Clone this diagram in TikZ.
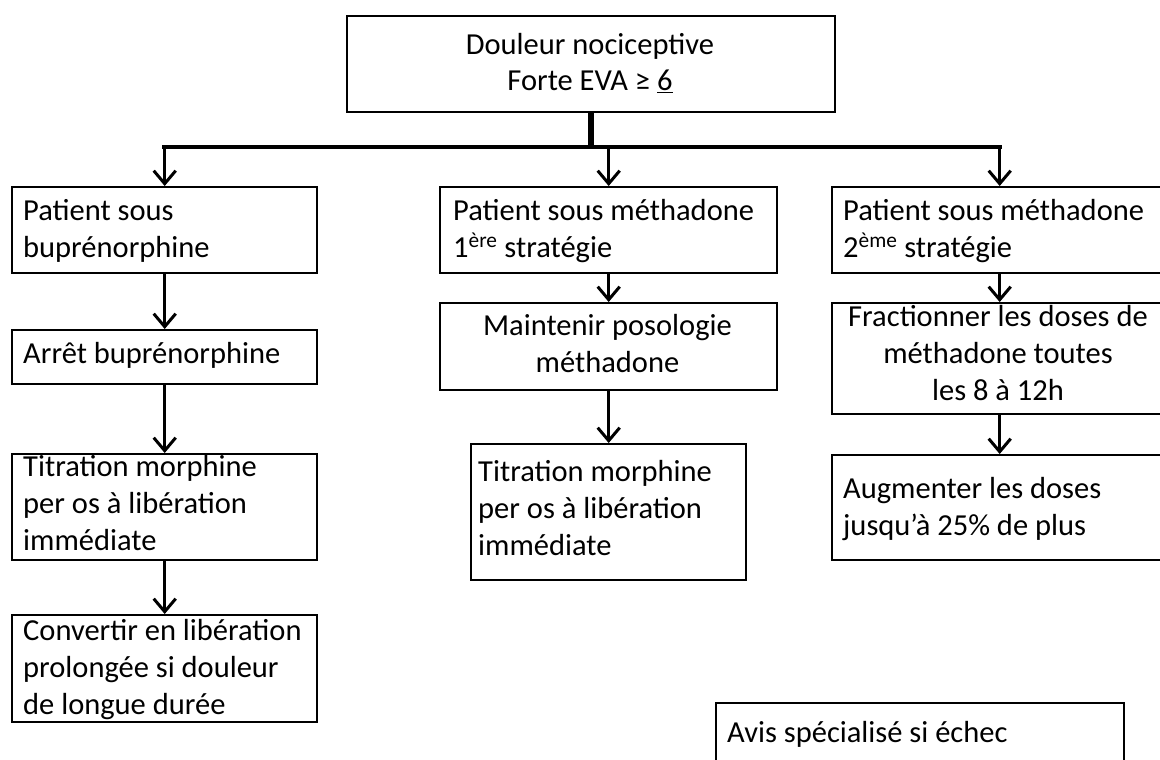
\documentclass[tikz,border=0pt]{standalone}
\usepackage{fontspec}
\setmainfont{Carlito}
\usetikzlibrary{arrows.meta,calc}
\begin{document}
\begin{tikzpicture}[x=1pt,y=-1pt,
  box/.style={draw, line width=2.4pt, inner sep=0pt, anchor=north west},
  txt/.style={inner sep=0pt, font=\fontsize{30.5}{36.6}\selectfont},
  ltxt/.style={txt, align=left, anchor=base west},
  ctxt/.style={txt, align=center, anchor=base},
  arr/.style={line width=3pt, -{Straight Barb[length=13pt,width=22pt,line width=3pt]}},
  stem/.style={line width=6pt},
  barline/.style={line width=4.5pt, line cap=rect}]
\clip (0,0) rectangle (1160,760);
\fill[white] (0,0) rectangle (1160,760);
% boxes
\node[box, minimum width=488, minimum height=96] (top) at (346,15) {};
\node[box, minimum width=305, minimum height=86] (p1) at (11,186) {};
\node[box, minimum width=337, minimum height=86] (p2) at (439,186) {};
\node[box, minimum width=335, minimum height=86] (p3) at (831,186) {};
\node[box, minimum width=305, minimum height=54] (a1) at (11,329) {};
\node[box, minimum width=305, minimum height=106] (t1) at (11,453) {};
\node[box, minimum width=305, minimum height=107] (c1) at (11,614) {};
\node[box, minimum width=337, minimum height=87] (m2) at (439,302) {};
\node[box, minimum width=275, minimum height=136] (t2) at (470,443) {};
\node[box, minimum width=335, minimum height=111] (f3) at (831,302) {};
\node[box, minimum width=335, minimum height=105] (g3) at (831,454) {};
\node[box, minimum width=408, minimum height=80] (avis) at (715,702) {};
% texts (anchored at the baseline of their last line)
\node[ctxt] (ttop) at (590,91) {Douleur nociceptive\\Forte EVA ≥ \underline{6}};
\node[ltxt] (tp1) at (23,257) {Patient sous\\buprénorphine};
\node[ltxt] (tp2) at (453,257) {Patient sous méthadone\\1\textsuperscript{ère} stratégie};
\node[ltxt] (tp3) at (843,257) {Patient sous méthadone\\2\textsuperscript{ème} stratégie};
\node[ltxt] (ta1) at (23,363) {Arrêt buprénorphine};
\node[ltxt] (tt1) at (23,550) {Titration morphine\\per os à libération\\immédiate};
\node[ltxt] (tc1) at (23,714) {Convertir en libération\\prolongée si douleur\\de longue durée};
\node[ctxt] (tm2) at (607.5,372) {Maintenir posologie\\méthadone};
\node[ltxt] (tt2) at (478,555) {Titration morphine\\per os à libération\\immédiate};
\node[ctxt] (tf3) at (998,400) {Fractionner les doses de\\méthadone toutes\\les 8 à 12h};
\node[ltxt] (tg3) at (843,535) {Augmenter les doses\\jusqu’à 25\% de plus};
\node[ltxt] (tavis) at (727,742) {Avis spécialisé si échec};
% connectors
\coordinate (bar) at (0,147);
\draw[stem] (top.south) -- (top.south |- bar);
\draw[barline] (p1.north |- bar) -- (p3.north |- bar);
\draw[arr] (p1.north |- bar) -- (p1.north);
\draw[arr] (p2.north |- bar) -- (p2.north);
\draw[arr] (p3.north |- bar) -- (p3.north);
\draw[arr] (p1.south) -- (a1.north);
\draw[arr] (a1.south) -- (t1.north);
\draw[arr] (t1.south) -- (c1.north);
\draw[arr] (p2.south) -- (m2.north);
\draw[arr] (m2.south) -- (t2.north);
\draw[arr] (p3.south) -- (f3.north);
\draw[arr] (f3.south) -- (g3.north);
\end{tikzpicture}
\end{document}
